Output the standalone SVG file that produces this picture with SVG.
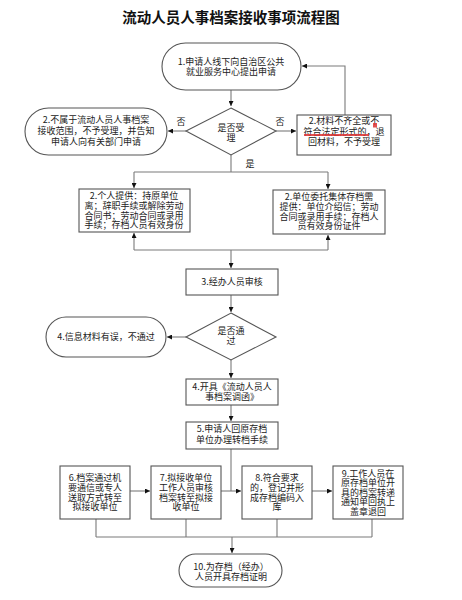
<svg xmlns="http://www.w3.org/2000/svg" width="462" height="600" viewBox="0 0 462 600">
<defs>
<marker id="ah" viewBox="0 0 10 10" refX="10" refY="5" markerWidth="5" markerHeight="5" orient="auto" markerUnits="userSpaceOnUse">
<path d="M0,0 L10,5 L0,10 z" fill="#111"/>
</marker>
</defs>
<style>
.box{fill:#fff;stroke:#555;stroke-width:1.1}
.t{font-family:"Noto Sans CJK SC","Noto Sans",sans-serif;font-size:9px;fill:#222;text-anchor:middle}
.c{fill:none;stroke:#7a7a7a;stroke-width:1.1}
.ca{fill:none;stroke:#7a7a7a;stroke-width:1.1;marker-end:url(#ah)}
.title{font-family:"Noto Sans CJK SC",sans-serif;font-size:14.5px;font-weight:700;fill:#111;text-anchor:middle}
</style>
<rect width="462" height="600" fill="#fff"/>
<text class="title" x="231" y="23">流动人员人事档案接收事项流程图</text>

<g id="connectors">
<path class="ca" d="M231,90 V106"/>
<path class="ca" d="M186,131 H168"/>
<path class="ca" d="M276,131 H296"/>
<path class="ca" d="M345,115 V66 H302"/>
<path class="c" d="M231,155 V172 M134,172 H328"/>
<path class="ca" d="M134,172 V188"/>
<path class="ca" d="M328,172 V189"/>
<path class="c" d="M134,250 H328"/>
<path class="ca" d="M134,250 V233"/>
<path class="ca" d="M328,250 V235"/>
<path class="ca" d="M231,250 V268"/>
<path class="ca" d="M231,295 V312"/>
<path class="ca" d="M186,337 H167"/>
<path class="ca" d="M231,360 V378"/>
<path class="ca" d="M231,405 V421"/>
<path class="c" d="M231,448 V491"/>
<path class="ca" d="M130,491 H150"/>
<path class="ca" d="M221,491 H241"/>
<path class="ca" d="M312,491 H332"/>
<path class="c" d="M96,519 V537 M186,519 V537 M277,519 V537 M372,519 V537 M96,537 H372"/>
<path class="ca" d="M232,537 V553"/>
</g>

<g id="n1">
<rect class="box" x="162" y="43" width="139" height="47" rx="23.5"/>
<text class="t" x="231" y="65.3"><tspan x="231">1.申请人线下向自治区公共</tspan><tspan x="231" dy="10">就业服务中心提出申请</tspan></text>
</g>

<g id="d1">
<path class="box" d="M231,108 L276,131 L231,155 L186,131 Z"/>
<text class="t" x="231" y="131"><tspan x="231">是否受</tspan><tspan x="231" dy="10">理</tspan></text>
</g>
<text class="t" x="181" y="125">否</text>
<text class="t" x="280" y="125">否</text>
<text class="t" x="250" y="167">是</text>

<g id="n2l">
<rect class="box" x="25" y="108" width="142" height="47" rx="23.5"/>
<text class="t" x="96" y="123"><tspan x="96">2.不属于流动人员人事档案</tspan><tspan x="96" dy="11">接收范围，不予受理，并告知</tspan><tspan x="96" dy="11">申请人向有关部门申请</tspan></text>
</g>

<g id="n2r">
<rect class="box" x="297" y="115" width="94" height="40"/>
<text class="t" x="344" y="124.3"><tspan x="344">2.材料不齐全或不</tspan><tspan x="344" dy="10.5">符合法定形式的，退</tspan><tspan x="344" dy="10.5">回材料，不予受理</tspan></text>
<path d="M304,135 H369" stroke="#d33" stroke-width="2.2" fill="none" opacity="0.85"/>
<rect x="373" y="123" width="4" height="4.5" fill="#d33" opacity="0.85"/>
</g>

<g id="n2a">
<rect class="box" x="79" y="189" width="111" height="43"/>
<text class="t" x="134" y="199.3"><tspan x="134">2.个人提供：持原单位</tspan><tspan x="134" dy="9.6">离；辞职手续或解除劳动</tspan><tspan x="134" dy="9.6">合同书；劳动合同或录用</tspan><tspan x="134" dy="9.6">手续；存档人员有效身份</tspan></text>
</g>

<g id="n2b">
<rect class="box" x="273" y="190" width="112" height="44"/>
<text class="t" x="329" y="200.3"><tspan x="329">2.单位委托集体存档需</tspan><tspan x="329" dy="9.6">提供：单位介绍信；劳动</tspan><tspan x="329" dy="9.6">合同或录用手续；存档人</tspan><tspan x="329" dy="9.6">员有效身份证件</tspan></text>
</g>

<g id="n3">
<rect class="box" x="186" y="269" width="92" height="26"/>
<text class="t" x="232" y="285">3.经办人员审核</text>
</g>

<g id="d2">
<path class="box" d="M231,313 L276,337 L231,360 L186,337 Z"/>
<text class="t" x="231" y="334"><tspan x="231">是否通</tspan><tspan x="231" dy="10">过</tspan></text>
</g>

<g id="n4l">
<rect class="box" x="46" y="317" width="120" height="40" rx="20"/>
<text class="t" x="106" y="340">4.信息材料有误，不通过</text>
</g>

<g id="n4">
<rect class="box" x="186" y="379" width="92" height="26"/>
<text class="t" x="232" y="390"><tspan x="232">4.开具《流动人员人</tspan><tspan x="232" dy="10">事档案调函》</tspan></text>
</g>

<g id="n5">
<rect class="box" x="186" y="422" width="92" height="27"/>
<text class="t" x="232" y="432"><tspan x="232">5.申请人回原存档</tspan><tspan x="232" dy="10.5">单位办理转档手续</tspan></text>
</g>

<g id="n6">
<rect class="box" x="60" y="466" width="70" height="53"/>
<text class="t" x="95" y="481.3"><tspan x="95">6.档案通过机</tspan><tspan x="95" dy="9.6">要通信或专人</tspan><tspan x="95" dy="9.6">送取方式转至</tspan><tspan x="95" dy="9.6">拟接收单位</tspan></text>
</g>

<g id="n7">
<rect class="box" x="151" y="466" width="70" height="53"/>
<text class="t" x="186" y="481.3"><tspan x="186">7.拟接收单位</tspan><tspan x="186" dy="9.6">工作人员审核</tspan><tspan x="186" dy="9.6">档案转至拟接</tspan><tspan x="186" dy="9.6">收单位</tspan></text>
</g>

<g id="n8">
<rect class="box" x="242" y="466" width="70" height="53"/>
<text class="t" x="277" y="481.3"><tspan x="277">8.符合要求</tspan><tspan x="277" dy="9.6">的，登记并形</tspan><tspan x="277" dy="9.6">成存档编码入</tspan><tspan x="277" dy="9.6">库</tspan></text>
</g>

<g id="n9">
<rect class="box" x="333" y="466" width="70" height="53"/>
<text class="t" x="368" y="476.6"><tspan x="368">9.工作人员在</tspan><tspan x="368" dy="9.6">原存档单位开</tspan><tspan x="368" dy="9.6">具的档案转递</tspan><tspan x="368" dy="9.6">通知单回执上</tspan><tspan x="368" dy="9.6">盖章退回</tspan></text>
</g>

<g id="n10">
<rect class="box" x="179" y="554" width="103" height="33" rx="16.5"/>
<text class="t" x="231" y="570"><tspan x="231">10.为存档（经办）</tspan><tspan x="231" dy="10">人员开具存档证明</tspan></text>
</g>
</svg>
